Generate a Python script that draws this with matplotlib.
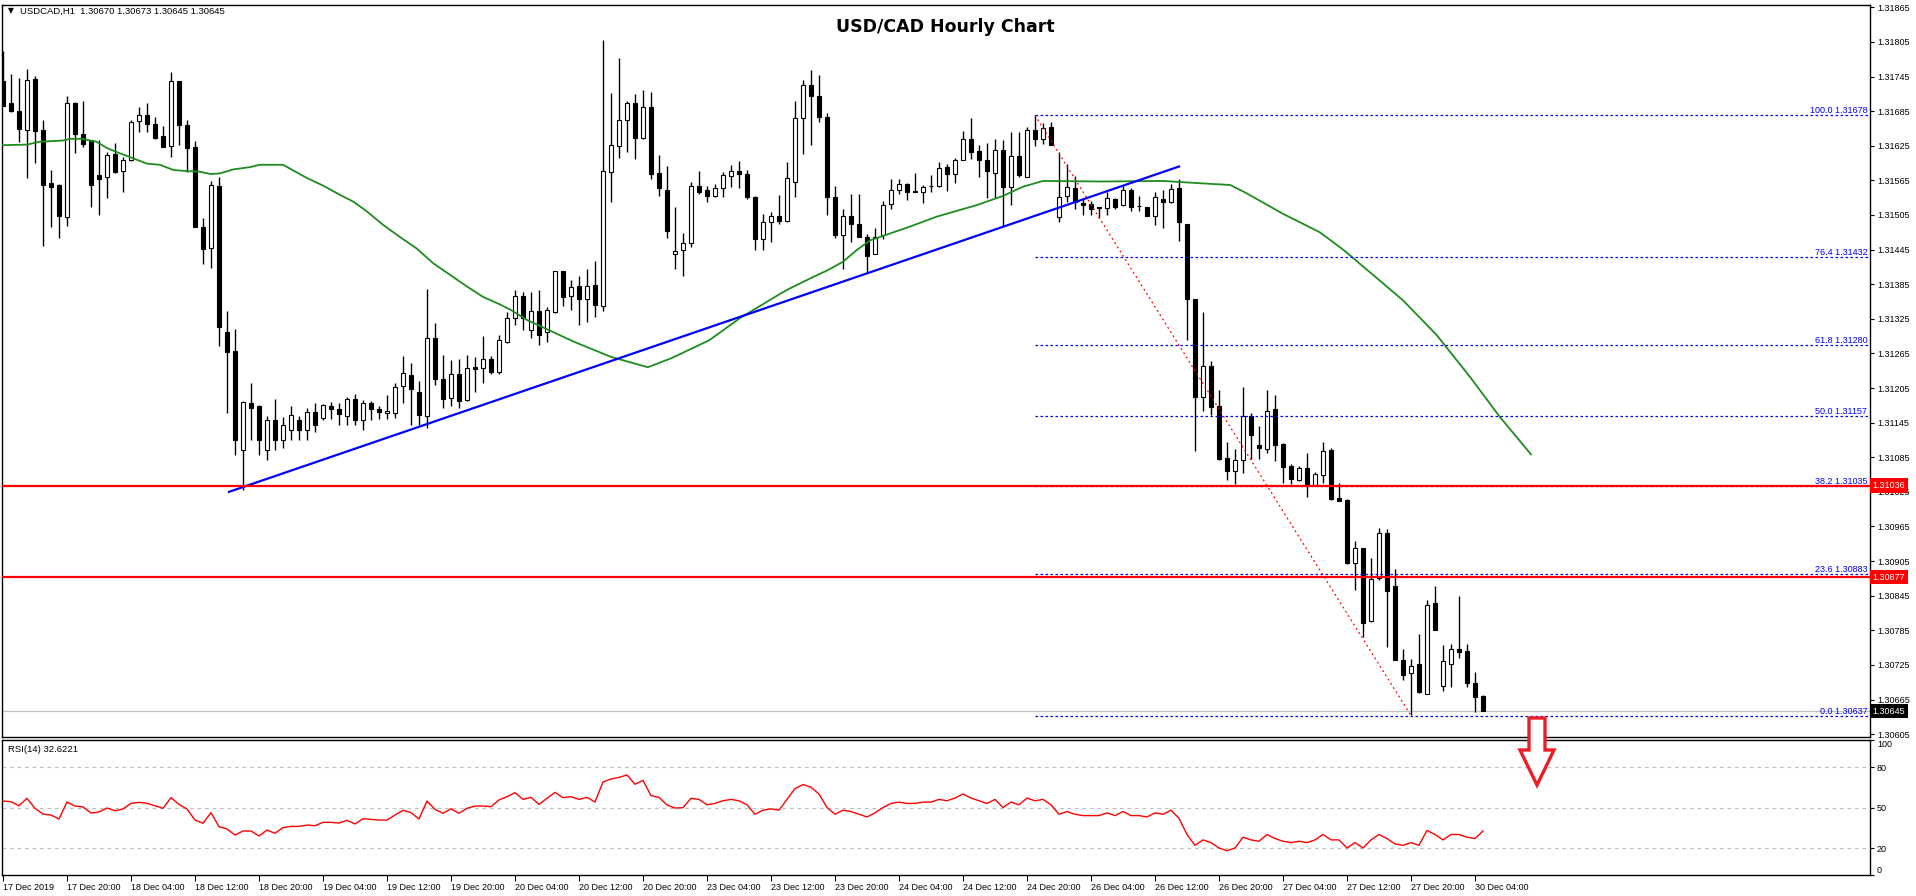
import matplotlib
matplotlib.use("Agg")
import matplotlib.pyplot as plt
from matplotlib.patches import Polygon

# ---- data (hourly USD/CAD bars, index 0 = 17 Dec 12:00) ----
opens = [
    1.31737, 1.31699, 1.31685, 1.31652, 1.31741, 1.31652, 1.31560, 1.31557, 1.31501, 1.31699,
    1.31645, 1.31635, 1.31574, 1.31571, 1.31611, 1.31581, 1.31600, 1.31668, 1.31678, 1.31663,
    1.31642, 1.31625, 1.31737, 1.31661, 1.31623, 1.31484, 1.31448, 1.31555, 1.31302, 1.31269,
    1.31097, 1.31179, 1.31174, 1.31097, 1.31149, 1.31115, 1.31132, 1.31149, 1.31132, 1.31163,
    1.31153, 1.31174, 1.31168, 1.31156, 1.31186, 1.31149, 1.31179, 1.31168, 1.31161, 1.31162,
    1.31208, 1.31227, 1.31198, 1.31157, 1.31291, 1.31220, 1.31187, 1.31229, 1.31184, 1.31241,
    1.31239, 1.31255, 1.31233, 1.31285, 1.31326, 1.31364, 1.31305, 1.31338, 1.31302, 1.31337,
    1.31407, 1.31364, 1.31381, 1.31360, 1.31383, 1.31348, 1.31580, 1.31625, 1.31669, 1.31699,
    1.31639, 1.31692, 1.31577, 1.31549, 1.31438, 1.31445, 1.31456, 1.31556, 1.31548, 1.31538,
    1.31551, 1.31572, 1.31582, 1.31576, 1.31536, 1.31464, 1.31492, 1.31503, 1.31495, 1.31563,
    1.31673, 1.31731, 1.31712, 1.31674, 1.31536, 1.31470, 1.31504, 1.31489, 1.31466, 1.31438,
    1.31470, 1.31524, 1.31549, 1.31558, 1.31546, 1.31544, 1.31555, 1.31555, 1.31588, 1.31576,
    1.31601, 1.31636, 1.31616, 1.31600, 1.31577, 1.31617, 1.31554, 1.31607, 1.31571, 1.31652,
    1.31636, 1.31657, 1.31502, 1.31538, 1.31551, 1.31525, 1.31524, 1.31518, 1.31517, 1.31532,
    1.31522, 1.31549, 1.31521, 1.31519, 1.31504, 1.31532, 1.31527, 1.31551, 1.31489, 1.31360,
    1.31190, 1.31243, 1.31174, 1.31083, 1.31061, 1.31081, 1.31157, 1.31106, 1.31100, 1.31168,
    1.31108, 1.31070, 1.31046, 1.31066, 1.31037, 1.31055, 1.31097, 1.31015, 1.31011, 1.30901,
    1.30927, 1.30801, 1.30875, 1.30953, 1.30862, 1.30733, 1.30711, 1.30726, 1.30675, 1.30832,
    1.30689, 1.30726, 1.30752, 1.30749, 1.30694, 1.30671]
highs = [
    1.31789, 1.31749, 1.31742, 1.31758, 1.31746, 1.31670, 1.31583, 1.31559, 1.31711, 1.31701,
    1.31702, 1.31635, 1.31635, 1.31614, 1.31630, 1.31605, 1.31670, 1.31692, 1.31699, 1.31675,
    1.31659, 1.31753, 1.31737, 1.31670, 1.31633, 1.31500, 1.31564, 1.31571, 1.31338, 1.31307,
    1.31182, 1.31213, 1.31175, 1.31156, 1.31186, 1.31155, 1.31174, 1.31156, 1.31170, 1.31179,
    1.31177, 1.31181, 1.31179, 1.31189, 1.31194, 1.31184, 1.31182, 1.31174, 1.31193, 1.31213,
    1.31260, 1.31248, 1.31217, 1.31376, 1.31318, 1.31262, 1.31253, 1.31256, 1.31262, 1.31258,
    1.31295, 1.31260, 1.31297, 1.31337, 1.31375, 1.31371, 1.31371, 1.31375, 1.31345, 1.31407,
    1.31407, 1.31392, 1.31400, 1.31412, 1.31425, 1.31808, 1.31716, 1.31777, 1.31703, 1.31715,
    1.31722, 1.31718, 1.31609, 1.31590, 1.31518, 1.31473, 1.31563, 1.31581, 1.31555, 1.31558,
    1.31579, 1.31591, 1.31598, 1.31583, 1.31538, 1.31507, 1.31510, 1.31540, 1.31597, 1.31702,
    1.31739, 1.31756, 1.31748, 1.31681, 1.31555, 1.31515, 1.31541, 1.31542, 1.31472, 1.31483,
    1.31530, 1.31567, 1.31568, 1.31561, 1.31577, 1.31557, 1.31574, 1.31597, 1.31593, 1.31603,
    1.31651, 1.31673, 1.31626, 1.31630, 1.31636, 1.31635, 1.31649, 1.31648, 1.31658, 1.31679,
    1.31664, 1.31667, 1.31615, 1.31594, 1.31573, 1.31534, 1.31530, 1.31519, 1.31545, 1.31534,
    1.31555, 1.31552, 1.31538, 1.31519, 1.31545, 1.31549, 1.31558, 1.31568, 1.31489, 1.31360,
    1.31336, 1.31252, 1.31201, 1.31111, 1.31099, 1.31206, 1.31162, 1.31139, 1.31201, 1.31193,
    1.31110, 1.31074, 1.31070, 1.31092, 1.31059, 1.31111, 1.31101, 1.31040, 1.31012, 1.30939,
    1.30927, 1.30911, 1.30962, 1.30960, 1.30891, 1.30752, 1.30735, 1.30778, 1.30837, 1.30862,
    1.30759, 1.30761, 1.30844, 1.30761, 1.30712, 1.30673]
lows = [
    1.31694, 1.31683, 1.31631, 1.31569, 1.31595, 1.31451, 1.31484, 1.31465, 1.31486, 1.31612,
    1.31623, 1.31519, 1.31505, 1.31534, 1.31578, 1.31545, 1.31598, 1.31649, 1.31649, 1.31637,
    1.31623, 1.31605, 1.31626, 1.31579, 1.31484, 1.31420, 1.31413, 1.31278, 1.31161, 1.31089,
    1.31028, 1.31115, 1.31089, 1.31080, 1.31097, 1.31101, 1.31115, 1.31115, 1.31115, 1.31129,
    1.31149, 1.31151, 1.31141, 1.31141, 1.31141, 1.31132, 1.31149, 1.31151, 1.31151, 1.31153,
    1.31179, 1.31141, 1.31141, 1.31135, 1.31211, 1.31170, 1.31174, 1.31170, 1.31183, 1.31198,
    1.31214, 1.31229, 1.31230, 1.31283, 1.31314, 1.31305, 1.31292, 1.31279, 1.31285, 1.31335,
    1.31347, 1.31340, 1.31314, 1.31319, 1.31328, 1.31339, 1.31528, 1.31604, 1.31615, 1.31602,
    1.31636, 1.31568, 1.31538, 1.31465, 1.31412, 1.31400, 1.31450, 1.31542, 1.31528, 1.31536,
    1.31537, 1.31554, 1.31552, 1.31533, 1.31445, 1.31445, 1.31459, 1.31490, 1.31493, 1.31536,
    1.31610, 1.31627, 1.31666, 1.31505, 1.31465, 1.31411, 1.31459, 1.31466, 1.31405, 1.31437,
    1.31463, 1.31516, 1.31541, 1.31531, 1.31544, 1.31526, 1.31545, 1.31554, 1.31546, 1.31560,
    1.31600, 1.31602, 1.31570, 1.31534, 1.31534, 1.31486, 1.31522, 1.31571, 1.31570, 1.31625,
    1.31628, 1.31626, 1.31493, 1.31527, 1.31516, 1.31505, 1.31505, 1.31499, 1.31505, 1.31515,
    1.31521, 1.31512, 1.31512, 1.31504, 1.31487, 1.31482, 1.31525, 1.31460, 1.31289, 1.31096,
    1.31165, 1.31158, 1.31080, 1.31045, 1.31038, 1.31057, 1.31082, 1.31082, 1.31093, 1.31078,
    1.31040, 1.31038, 1.31044, 1.31016, 1.31038, 1.31040, 1.31010, 1.31009, 1.30900, 1.30855,
    1.30774, 1.30800, 1.30872, 1.30756, 1.30733, 1.30699, 1.30638, 1.30677, 1.30674, 1.30785,
    1.30680, 1.30687, 1.30737, 1.30687, 1.30644, 1.30645]
closes = [
    1.31694, 1.31685, 1.31654, 1.31739, 1.31650, 1.31557, 1.31553, 1.31503, 1.31699, 1.31645,
    1.31628, 1.31557, 1.31567, 1.31609, 1.31579, 1.31600, 1.31666, 1.31678, 1.31663, 1.31638,
    1.31623, 1.31737, 1.31661, 1.31621, 1.31484, 1.31446, 1.31557, 1.31311, 1.31267, 1.31115,
    1.31181, 1.31170, 1.31115, 1.31149, 1.31115, 1.31141, 1.31158, 1.31132, 1.31163, 1.31141,
    1.31175, 1.31168, 1.31160, 1.31186, 1.31149, 1.31179, 1.31168, 1.31163, 1.31165, 1.31206,
    1.31231, 1.31203, 1.31159, 1.31291, 1.31221, 1.31186, 1.31229, 1.31183, 1.31239, 1.31238,
    1.31256, 1.31233, 1.31288, 1.31326, 1.31364, 1.31326, 1.31338, 1.31297, 1.31341, 1.31407,
    1.31363, 1.31380, 1.31360, 1.31381, 1.31349, 1.31581, 1.31626, 1.31670, 1.31699, 1.31639,
    1.31693, 1.31576, 1.31552, 1.31478, 1.31442, 1.31457, 1.31556, 1.31545, 1.31538, 1.31551,
    1.31574, 1.31582, 1.31576, 1.31537, 1.31464, 1.31492, 1.31504, 1.31494, 1.31569, 1.31673,
    1.31731, 1.31712, 1.31675, 1.31536, 1.31471, 1.31504, 1.31489, 1.31466, 1.31433, 1.31467,
    1.31523, 1.31548, 1.31559, 1.31545, 1.31544, 1.31554, 1.31555, 1.31586, 1.31576, 1.31601,
    1.31636, 1.31615, 1.31600, 1.31581, 1.31617, 1.31554, 1.31607, 1.31575, 1.31653, 1.31636,
    1.31655, 1.31626, 1.31537, 1.31553, 1.31527, 1.31522, 1.31516, 1.31517, 1.31534, 1.31519,
    1.31548, 1.31519, 1.31521, 1.31504, 1.31536, 1.31527, 1.31550, 1.31492, 1.31359, 1.31190,
    1.31244, 1.31172, 1.31082, 1.31061, 1.31081, 1.31156, 1.31123, 1.31101, 1.31166, 1.31106,
    1.31068, 1.31047, 1.31066, 1.31037, 1.31056, 1.31096, 1.31012, 1.31009, 1.30902, 1.30927,
    1.30798, 1.30874, 1.30954, 1.30853, 1.30734, 1.30707, 1.30723, 1.30678, 1.30829, 1.30786,
    1.30732, 1.30752, 1.30748, 1.30694, 1.30670, 1.30645]

rsi = [
    54.8, 54.3, 51.3, 56.8, 49.4, 45.1, 44.4, 41.5, 54.1, 51.1,
    50.4, 45.9, 46.7, 49.6, 47.6, 48.9, 53.1, 53.8, 53.1, 51.3,
    49.4, 57.3, 52.3, 48.9, 40.7, 38.3, 46.2, 35.8, 34.1, 29.6,
    32.6, 32.6, 28.9, 33.3, 30.9, 35.1, 36.0, 36.0, 37.0, 36.5,
    39.0, 39.0, 38.5, 40.5, 37.8, 41.7, 41.2, 40.7, 40.7, 44.4,
    47.9, 46.2, 41.5, 54.8, 48.6, 45.7, 49.1, 45.7, 49.4, 51.1,
    51.1, 50.6, 55.6, 58.0, 61.0, 56.0, 57.5, 52.3, 56.8, 61.2,
    57.3, 58.0, 56.0, 57.5, 54.1, 68.9, 71.1, 72.3, 74.1, 67.2,
    70.1, 58.8, 57.5, 51.9, 49.6, 49.9, 56.8, 56.0, 52, 53,
    55, 56, 55, 52, 45, 48, 49, 48, 56, 64,
    67, 65, 60, 50, 45, 48, 47, 45, 43, 46,
    50, 53, 54, 53, 53, 54, 54, 56, 55, 57,
    60, 57, 55, 53, 56, 50, 54, 52, 57, 55,
    56, 52, 45, 47, 45, 44, 44, 44, 46, 44,
    47, 44, 44, 43, 46, 45, 48, 42, 30, 22,
    26, 24, 20, 18, 20, 28, 26, 25, 30, 27,
    25, 24, 25, 24, 26, 30, 26, 26, 20, 24,
    20, 26, 30, 27, 23, 22, 24, 22, 33, 30,
    26, 30, 30, 28, 27, 32.6]

# moving average, read at sampled bar positions
ma_idx = [0, 3, 4.6, 7.5, 8.4, 9.8, 11.7, 13, 14.6, 16.3, 18, 19.6, 21.3, 23, 24.6, 25.9, 27.1,
          28.8, 30.9, 32.1, 35, 38, 40, 42.1, 43.8, 45.5, 47.5, 49.6, 51.7, 53.8, 55.9, 58,
          60, 62.1, 63.4, 65.5, 71.4, 76, 80.6, 83.6, 88.3, 92.1, 97.1, 98.4, 100.9, 103.2,
          105, 106.7, 108.4, 110.9, 113.4, 116.7, 119.2, 121.7, 125, 127.5, 130, 137.5, 145,
          149.6, 153.4, 155.4, 160, 164.6, 167.6, 172.2, 175, 179.2, 183.5, 187.1, 191]
ma_val = [1.31626, 1.31627, 1.31632, 1.31634, 1.31637, 1.31637, 1.31632, 1.31621, 1.31612,
          1.31603, 1.31594, 1.31592, 1.31583, 1.31581, 1.31580, 1.31576, 1.31577, 1.31584,
          1.31588, 1.31592, 1.31592, 1.31569, 1.31556, 1.31540, 1.31528, 1.31511, 1.31488,
          1.31467, 1.31447, 1.31421, 1.31401, 1.31381, 1.31363, 1.31350, 1.31341, 1.31323,
          1.31285, 1.31259, 1.31241, 1.31257, 1.31288, 1.31326, 1.31368, 1.31378, 1.31395,
          1.31410, 1.31424, 1.31444, 1.31461, 1.31473, 1.31485, 1.31502, 1.31512, 1.31522,
          1.31538, 1.31554, 1.31564, 1.31563, 1.31564, 1.31560, 1.31557, 1.31543, 1.31507,
          1.31475, 1.31444, 1.31390, 1.31357, 1.31297, 1.31222, 1.31155, 1.31090]

date_labels = ['17 Dec 2019', '17 Dec 20:00', '18 Dec 04:00', '18 Dec 12:00', '18 Dec 20:00',
               '19 Dec 04:00', '19 Dec 12:00', '19 Dec 20:00', '20 Dec 04:00', '20 Dec 12:00',
               '20 Dec 20:00', '23 Dec 04:00', '23 Dec 12:00', '23 Dec 20:00', '24 Dec 04:00',
               '24 Dec 12:00', '24 Dec 20:00', '26 Dec 04:00', '26 Dec 12:00', '26 Dec 20:00',
               '27 Dec 04:00', '27 Dec 12:00', '27 Dec 20:00', '30 Dec 04:00']
price_ticks = [1.31865 - 0.0006 * k for k in range(22)]
rsi_ticks = [0, 20, 50, 80, 100]
rsi_levels = [20, 50, 80]

fib_pct = [100.0, 76.4, 61.8, 50.0, 38.2, 23.6, 0.0]
fib_price = [1.31678, 1.31432, 1.31280, 1.31157, 1.31035, 1.30883, 1.30637]
fib_from, fib_to = 129, 176          # bars of the swing high / low
support = [1.31036, 1.30877]
trend_x = [28.25, 147.0]
trend_y = [1.31025, 1.31589]
last_price = 1.30645

# ---- figure layout (pixel based, 1916 x 896) ----
W, H = 1916, 896
fig = plt.figure(figsize=(W / 100, H / 100), dpi=100)
fig.patch.set_facecolor('white')
plt.rcParams['font.family'] = ['Liberation Sans', 'DejaVu Sans']

x0, x1 = 2, 1870
ax = fig.add_axes([x0 / W, 1 - 737 / H, (x1 - x0) / W, 732 / H])
ar = fig.add_axes([x0 / W, 1 - 875 / H, (x1 - x0) / W, 135 / H])

xlim = ((x0 - 3) / 8, (x1 - 3) / 8)
for a in (ax, ar):
    a.set_xlim(*xlim)
    for s in a.spines.values():
        s.set_linewidth(1.0)
        s.set_color('black')

ax.set_ylim(1.30600, 1.31869)
ar.set_ylim(0, 100)

# ---- candles ----
n = len(opens)
idx = list(range(n))
ax.vlines(idx, lows, highs, color='black', linewidth=1.0, zorder=3)
body_low = [min(o, c) for o, c in zip(opens, closes)]
body_h = [max(abs(c - o), 0.000004) for o, c in zip(opens, closes)]
face = ['white' if c > o else 'black' for o, c in zip(opens, closes)]
ax.bar(idx, body_h, bottom=body_low, width=0.62, color=face, edgecolor='black',
       linewidth=0.8, zorder=4)

# moving average
ax.plot(ma_idx, ma_val, color='#1e8c1e', linewidth=1.3, zorder=5)

# trend line
ax.plot(trend_x, trend_y, color='#0000ff', linewidth=1.6, zorder=5)

# support lines
for p in support:
    ax.axhline(p, color='#ff0000', linewidth=1.6, zorder=6)

# last price line
ax.axhline(last_price, color='#c0c0c0', linewidth=0.9, zorder=2)

# fibonacci
for pct, p in zip(fib_pct, fib_price):
    ax.plot([fib_from, xlim[1]], [p, p], color='#0000ff', linewidth=0.9,
            linestyle=(0, (2, 2)), zorder=5)
    ax.text(0.9985, p, f'{pct:.1f} {p:.5f}', transform=ax.get_yaxis_transform(),
            ha='right', va='bottom', fontsize=6.5, color='#0000ff', zorder=7)
ax.plot([fib_from, fib_to], [fib_price[0], fib_price[-1]], color='#ff0000',
        linewidth=0.9, linestyle=(0, (1.5, 2.5)), zorder=6)

# price axis
ax.yaxis.tick_right()
ax.set_yticks(price_ticks)
ax.set_yticklabels([f'{p:.5f}' for p in price_ticks])
ax.tick_params(axis='y', direction='out', length=3, width=0.8, pad=2, labelsize=6.5)
ax.set_xticks([])

for p in support:
    ax.text(1.0015, p, f'{p:.5f}', transform=ax.get_yaxis_transform(), ha='left',
            va='center', fontsize=6.5, color='white', zorder=8, clip_on=False,
            bbox=dict(boxstyle='square,pad=0.3', fc='#ff0000', ec='none'))
ax.text(1.0015, last_price, f'{last_price:.5f}', transform=ax.get_yaxis_transform(),
        ha='left', va='center', fontsize=6.5, color='white', zorder=8, clip_on=False,
        bbox=dict(boxstyle='square,pad=0.3', fc='black', ec='none'))

# titles
ax.text(0.505, 0.970, 'USD/CAD Hourly Chart', transform=ax.transAxes, ha='center',
        va='center', fontsize=12.5, fontweight='bold', family='DejaVu Sans')
ax.text(0.003, 0.992, '\u25bc', transform=ax.transAxes, ha='left', va='center',
        fontsize=5.5, family='DejaVu Sans')
ax.text(0.0095, 0.992, 'USDCAD,H1  1.30670 1.30673 1.30645 1.30645',
        transform=ax.transAxes, ha='left', va='center', fontsize=6.8)

# ---- RSI panel ----
ar.plot(idx, rsi, color='#ff0000', linewidth=1.0, zorder=3)
for lv in rsi_levels:
    ar.axhline(lv, color='#c0c0c0', linewidth=0.9, linestyle=(0, (3, 3)), zorder=1)
ar.yaxis.tick_right()
ar.set_yticks(rsi_ticks)
ar.set_yticklabels([str(t) for t in rsi_ticks])
ar.tick_params(axis='y', direction='out', length=3, width=0.8, pad=2, labelsize=6.5)
for t, lab in zip(rsi_ticks, ar.get_yticklabels()):
    if t == 100:
        lab.set_va('top')
    elif t == 0:
        lab.set_va('bottom')
ar.text(0.003, 0.93, 'RSI(14) 32.6221', transform=ar.transAxes, ha='left', va='center',
        fontsize=6.8)

ar.set_xticks(range(0, 8 * len(date_labels), 8))
ar.set_xticklabels(date_labels)
ar.tick_params(axis='x', direction='out', length=4, width=0.8, pad=2, labelsize=6.5)
for lab in ar.get_xticklabels():
    lab.set_ha('left')

# ---- red down arrow (overlay, pixel space) ----
ov = fig.add_axes([0, 0, 1, 1])
ov.set_xlim(0, W)
ov.set_ylim(H, 0)
ov.axis('off')
cx, top, neck, tip = 1537, 718, 750, 785
sw, hw = 8, 17
arrow = Polygon([(cx - sw, top), (cx + sw, top), (cx + sw, neck), (cx + hw, neck),
                 (cx, tip), (cx - hw, neck), (cx - sw, neck)], closed=True,
                facecolor='white', edgecolor='#ee1c24', linewidth=2.4, zorder=10)
ov.add_patch(arrow)

fig.savefig('out.png', dpi=100, facecolor='white')
